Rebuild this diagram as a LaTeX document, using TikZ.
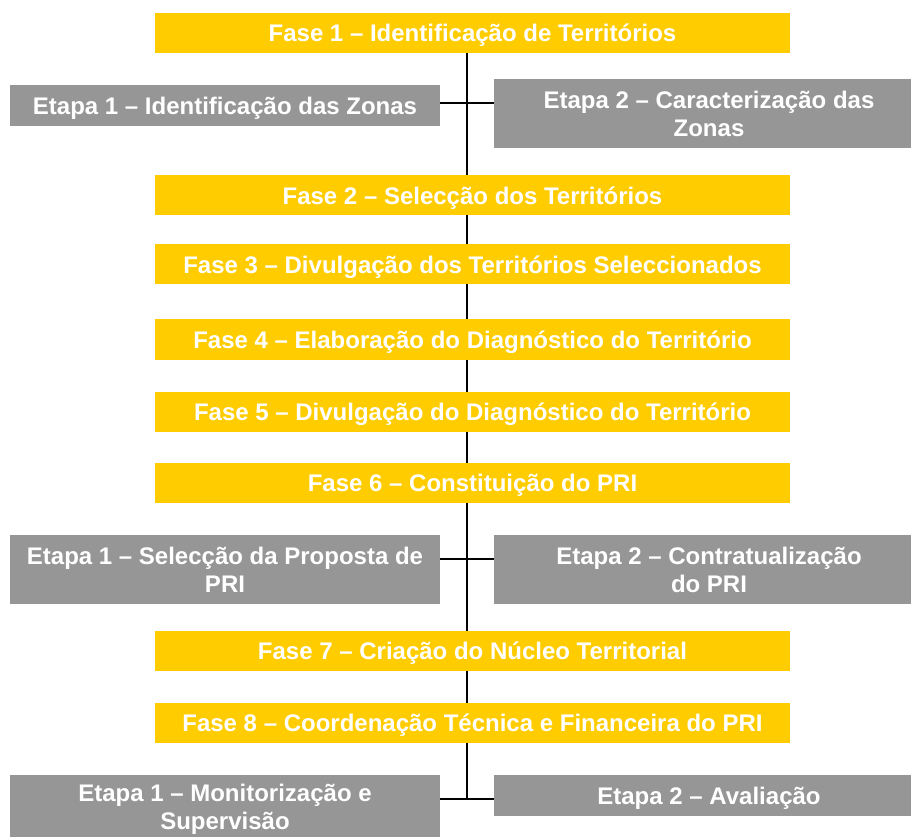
\documentclass[tikz,border=0pt]{standalone}
\usepackage{fontspec}
\setmainfont{Liberation Sans}
\usetikzlibrary{backgrounds}
\definecolor{faseyellow}{HTML}{FFCC00}
\definecolor{etapagray}{HTML}{969696}
\tikzset{
  fasebox/.style={fill=faseyellow, text=white, font=\fontsize{24}{28}\selectfont\bfseries,
    minimum width=635pt, minimum height=40pt, inner sep=0pt, align=center,
    text height=22pt, text depth=4.6pt},
  etapabox/.style={fill=etapagray, text=white, font=\fontsize{24}{28}\selectfont\bfseries,
    inner sep=0pt, align=center, minimum width=430pt},
  oneline/.style={text height=22pt, text depth=4.6pt},
  spine/.style={line width=2pt, black}
}
\begin{document}
\begin{tikzpicture}[x=1pt,y=-1pt]
\useasboundingbox (0,0) rectangle (911,837);
\clip (0,0) rectangle (911,837);
% nodes
\node[fasebox] (f1) at (472.5,33) {Fase 1 – Identificação de Territórios};
\node[etapabox, oneline, minimum height=41pt] (e11) at (225,105.5) {Etapa 1 – Identificação das Zonas};
\node[etapabox, minimum height=69pt] (e12) at (709,113.5) {Etapa 2 – Caracterização das\\Zonas};
\node[fasebox] (f2) at (472.5,195.5) {Fase 2 – Selecção dos Territórios};
\node[fasebox] (f3) at (472.5,264.5) {Fase 3 – Divulgação dos Territórios Seleccionados};
\node[fasebox] (f4) at (472.5,339.5) {Fase 4 – Elaboração do Diagnóstico do Território};
\node[fasebox] (f5) at (472.5,411.5) {Fase 5 – Divulgação do Diagnóstico do Território};
\node[fasebox] (f6) at (472.5,483) {Fase 6 – Constituição do PRI};
\node[etapabox, minimum height=69pt] (e21) at (225,569.5) {Etapa 1 – Selecção da Proposta de\\PRI};
\node[etapabox, minimum height=69pt] (e22) at (709,569.5) {Etapa 2 – Contratualização\\do PRI};
\node[fasebox] (f7) at (472.5,651) {Fase 7 – Criação do Núcleo Territorial};
\node[fasebox] (f8) at (472.5,723) {Fase 8 – Coordenação Técnica e Financeira do PRI};
\node[etapabox, minimum height=69pt] (e31) at (225,809.5) {Etapa 1 – Monitorização e\\Supervisão};
\node[etapabox, oneline, minimum height=41pt] (e32) at (709,795.5) {Etapa 2 – Avaliação};
% connector anchor points
\coordinate (h1a) at ([yshift=2.5pt]e11.east);
\coordinate (h1b) at (h1a -| e12.west);
\coordinate (h2a) at ([yshift=10.5pt]e21.east);
\coordinate (h2b) at (h2a -| e22.west);
\coordinate (h3a) at ([yshift=10.5pt]e31.east);
\coordinate (h3b) at (h3a -| e32.west);
\coordinate (top) at ([xshift=-5.5pt]f1.south);
\coordinate (bot) at (top |- h3a);
% connectors (behind boxes)
\begin{scope}[on background layer]
  \draw[spine] (top) -- (bot);
  \draw[spine] (h1a) -- (h1b);
  \draw[spine] (h2a) -- (h2b);
  \draw[spine] (h3a) -- (h3b);
\end{scope}
\end{tikzpicture}
\end{document}
